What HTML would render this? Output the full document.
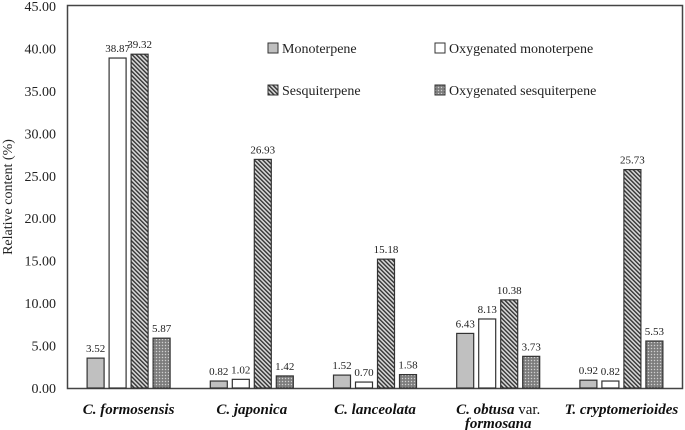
<!DOCTYPE html>
<html><head><meta charset="utf-8"><style>
body{margin:0;background:#fff}
svg{display:block;font-family:"Liberation Serif",serif}
</style></head><body>
<svg id="c" width="685" height="430">
<defs>
<pattern id="hatch" width="3" height="3" patternUnits="userSpaceOnUse" patternTransform="rotate(-45)">
<rect width="3" height="3" fill="#d8d8d8"/><rect width="1.4" height="3" fill="#333"/></pattern>
<pattern id="dots" width="3" height="3" patternUnits="userSpaceOnUse">
<rect width="3" height="3" fill="#8a8a8a"/><rect width="1" height="1" fill="#d0d0d0"/><rect x="1.5" y="1.5" width="1" height="1" fill="#555"/></pattern>
</defs>
<rect x="67.5" y="5.5" width="615" height="383" fill="none" stroke="#444" stroke-width="1.5"/>
<g id="g"></g>
</svg>
<script>
const categories=["C. formosensis","C. japonica","C. lanceolata","C. obtusa var.","T. cryptomerioides"];
const mono=[3.52,0.82,1.52,6.43,0.92];
const oxyMono=[38.87,1.02,0.70,8.13,0.82];
const sesq=[39.32,26.93,15.18,10.38,25.73];
const oxySesq=[5.87,1.42,1.58,3.73,5.53];
const ticks=[0,5,10,15,20,25,30,35,40,45];
const seriesNames=["Monoterpene","Oxygenated monoterpene","Sesquiterpene","Oxygenated sesquiterpene"];
const NS="http://www.w3.org/2000/svg",g=document.getElementById('g');
const x0=67,x1=683,y0=388,y1=6;
const y=v=>y0-(v/45)*(y0-y1);
const gx=i=>x0+(x1-x0)/5*(i+0.5);
function el(t,a,txt){const e=document.createElementNS(NS,t);for(const k in a)e.setAttribute(k,a[k]);if(txt!=null)e.textContent=txt;g.appendChild(e);return e;}
ticks.forEach(t=>{const e=el('text',{x:56,y:y(t)+5,'text-anchor':'end','font-size':14,fill:'#222'},t.toFixed(2));

});
const yt=el('text',{x:12,y:197,'text-anchor':'middle','font-size':14,transform:'rotate(-90 12 197)',fill:'#222'},'Relative content (%)');


const fills=['#c0c0c0','#fff','url(#hatch)','url(#dots)'];
const series=[mono,oxyMono,sesq,oxySesq];
const offs=[-33,-11,11,33];
series.forEach((s,si)=>s.forEach((v,i)=>{
const cx=gx(i)+offs[si];
const r=el('rect',{x:cx-8.5,y:y(v),width:17,height:y0-y(v),fill:fills[si],stroke:'#333','stroke-width':1.2});


const t=el('text',{x:cx,y:y(v)-6,'text-anchor':'middle','font-size':11,fill:'#222'},v.toFixed(2));


}));
categories.forEach((c,i)=>{
const t=el('text',{x:gx(i),y:414,'text-anchor':'middle','font-size':15,'font-weight':'bold','font-style':'italic',fill:'#111'});


if(c==="C. obtusa var."){t.innerHTML='C. obtusa <tspan font-style="normal" font-weight="normal">var.</tspan>';
const t2=el('text',{x:gx(i),y:428,'text-anchor':'middle','font-size':15,'font-weight':'bold','font-style':'italic',fill:'#111'},'formosana');

}
else t.textContent=c;
});
const lpos=[[268,48],[435,48],[268,90],[435,90]];
seriesNames.forEach((n,i)=>{
const r=el('rect',{x:lpos[i][0],y:lpos[i][1]-5,width:10,height:10,fill:fills[i],stroke:'#333'});


const t=el('text',{x:lpos[i][0]+14,y:lpos[i][1]+5,'font-size':14,fill:'#222'},n);


});
</script>
</body></html>
